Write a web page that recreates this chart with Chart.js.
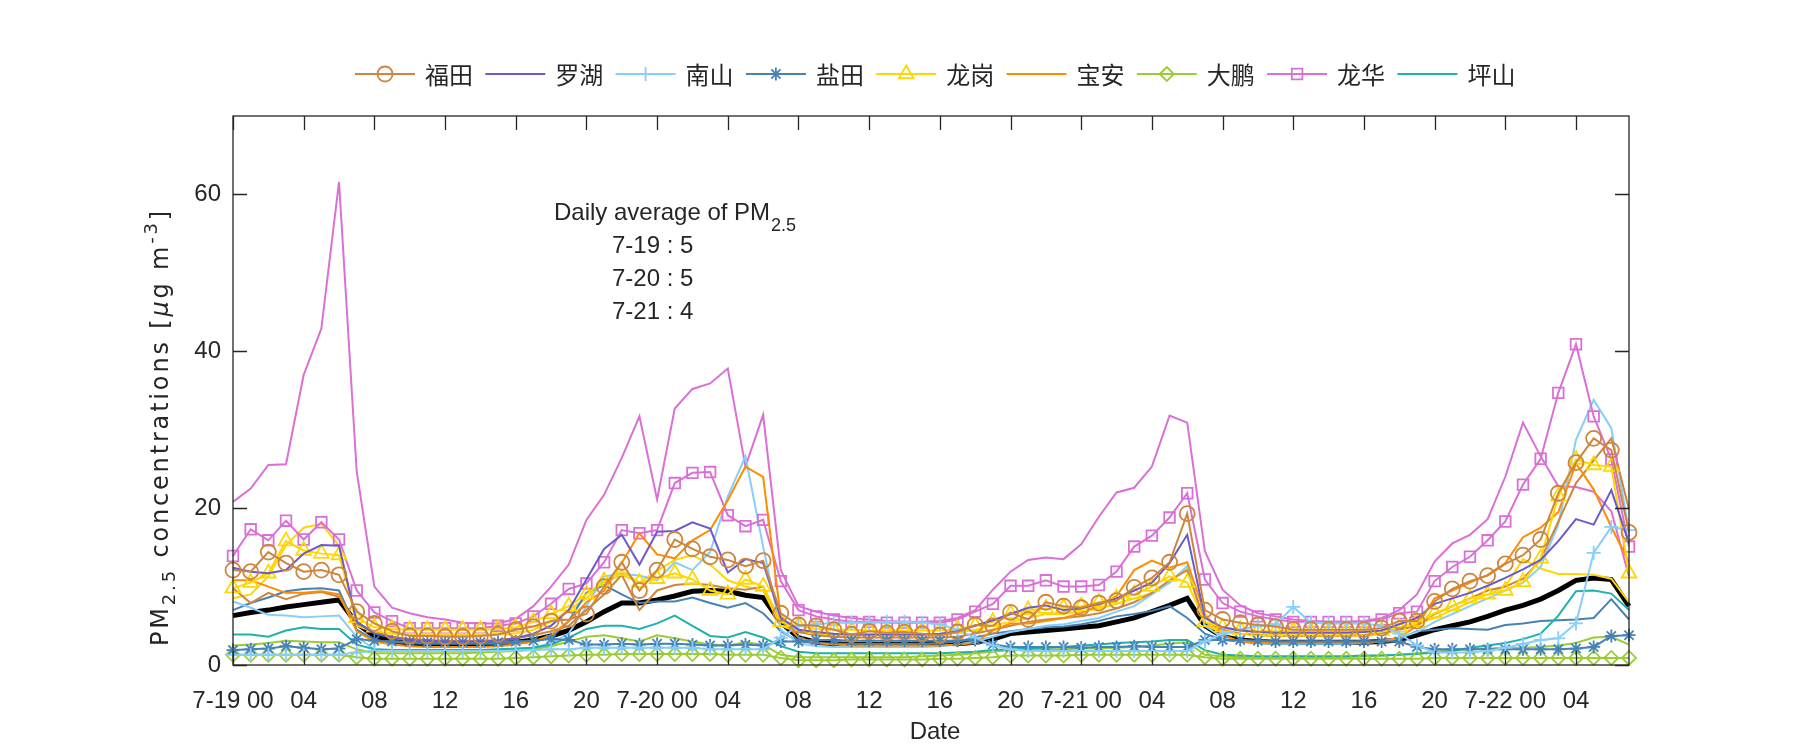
<!DOCTYPE html>
<html>
<head>
<meta charset="utf-8">
<script src="https://cdn.jsdelivr.net/npm/chart.js@4.4.1/dist/chart.umd.min.js"></script>
<style>
  html, body { margin: 0; padding: 0; background: #fff; }
  canvas { display: block; }
</style>
</head>
<body>
<canvas id="chart" width="1800" height="750"></canvas>
<script>
// PM2.5 horaire par district, 7-19 00h -> 7-22 07h (80 heures)
const HOURS = Array.from({ length: 80 }, (_, i) => i);

const DISTRICTS = ['福田', '罗湖', '南山', '盐田', '龙岗', '宝安', '大鹏', '龙华', '坪山'];
const DAILY_DATES = ['7-19', '7-20', '7-21'];
const DAILY_AVG = [5, 5, 4];
const Y_TICKS = [0, 20, 40, 60];

// moyenne (ligne noire épaisse)
const AVG = [
  6.3, 6.7, 7.0, 7.4, 7.7, 8.0, 8.3,
  5.3, 3.7, 3.0, 2.8, 2.6, 2.6, 2.6, 2.6, 2.7, 2.9, 3.2, 3.7, 4.4,
  5.5, 6.8, 7.9, 7.9, 8.3, 8.8, 9.4, 9.5, 9.4, 8.9, 8.6,
  5.4, 3.5, 2.9, 2.7, 2.6, 2.6, 2.6, 2.6, 2.7, 2.8, 2.7, 2.9, 3.3,
  4.0, 4.2, 4.4, 4.6, 4.8, 5.0, 5.5, 6.0, 6.8, 7.6, 8.5,
  5.0, 3.6, 3.2, 3.0, 2.9, 2.9, 2.9, 2.9, 2.9, 2.9, 3.0, 3.2, 3.8,
  4.5, 5.0, 5.5, 6.2, 7.0, 7.6, 8.4, 9.5, 10.8, 11.1, 10.9, 7.5,
];

const FUTIAN = [
  12.1, 11.9, 14.4, 13.0, 11.9, 12.1, 11.5,
  6.8, 5.3, 4.3, 3.7, 3.7, 3.6, 3.6, 3.7, 3.9, 4.5, 4.9, 5.6, 5.8,
  6.5, 10.0, 13.1, 9.5, 12.1, 16.0, 14.8, 13.8, 13.4, 12.6, 13.3,
  6.6, 5.1, 5.0, 4.5, 3.9, 4.3, 4.1, 4.2, 4.0, 3.8, 4.2, 5.1, 5.0,
  6.7, 5.8, 8.0, 7.5, 7.3, 7.9, 8.2, 9.9, 11.1, 13.1, 19.3,
  7.0, 5.8, 5.4, 5.1, 4.9, 4.5, 4.5, 4.5, 4.5, 4.5, 4.7, 5.6, 5.6,
  8.1, 9.7, 10.7, 11.4, 12.9, 14.0, 16.0, 21.9, 25.8, 28.9, 27.4, 16.9,
];
const FUTIAN_B = [
  9.8, 7.9, 9.2, 8.4, 9.1, 9.3, 8.7,
  5.3, 4.2, 3.6, 3.3, 3.2, 3.1, 3.1, 3.1, 3.2, 3.4, 3.8, 4.3, 5.0,
  7.0, 9.0, 11.5, 7.0, 9.5, 10.2, 10.4, 10.2, 9.8, 9.6, 10.0,
  5.5, 4.2, 3.8, 3.6, 3.5, 3.5, 3.5, 3.5, 3.5, 3.5, 3.6, 4.0, 4.5,
  5.0, 5.5, 5.8, 6.0, 6.2, 6.6, 7.2, 8.0, 9.2, 10.8, 12.1,
  5.5, 4.5, 4.0, 3.8, 3.7, 3.7, 3.7, 3.7, 3.7, 3.8, 4.0, 4.5, 5.0,
  6.5, 7.5, 8.5, 9.5, 10.0, 11.0, 13.4, 18.3, 23.2, 26.1, 28.9, 19.8,
];
const LUOHU = [
  12.4, 11.9, 11.7, 12.1, 14.2, 15.3, 15.2,
  5.5, 4.0, 3.5, 3.2, 3.1, 3.0, 3.0, 3.0, 3.1, 3.4, 4.0, 5.0, 7.0,
  10.9, 14.8, 16.6, 12.8, 17.0, 17.1, 18.2, 17.4, 11.8, 13.5, 13.0,
  6.0, 4.5, 4.2, 4.0, 3.9, 3.9, 3.9, 3.9, 3.9, 4.0, 4.3, 5.0, 5.7,
  6.5, 7.3, 7.6, 7.0, 7.2, 7.8, 8.5, 9.5, 10.5, 13.0, 16.6,
  6.0, 4.8, 4.4, 4.2, 4.1, 4.1, 4.1, 4.1, 4.1, 4.2, 4.4, 5.2, 6.0,
  7.8, 8.5, 9.2, 10.1, 11.1, 12.2, 13.4, 15.8, 18.6, 17.9, 22.3, 15.5,
];
const NANSHAN = [
  1.3, 1.3, 1.3, 1.3, 1.3, 1.3, 1.3,
  1.6, 1.8, 1.8, 1.8, 1.8, 1.8, 1.8, 1.8, 1.8, 1.8, 1.9, 2.0, 2.0,
  2.2, 2.2, 2.2, 2.2, 2.2, 2.2, 2.2, 2.0, 2.0, 2.0, 2.0,
  3.5, 5.0, 5.2, 5.4, 5.4, 5.4, 5.5, 5.5, 5.4, 5.2, 4.5, 3.5, 2.5,
  2.0, 1.8, 1.8, 1.8, 1.8, 1.8, 1.8, 1.8, 1.8, 1.8, 1.8,
  3.0, 4.0, 4.5, 5.0, 5.2, 7.4, 5.4, 5.3, 5.3, 5.3, 5.0, 4.0, 2.5,
  1.6, 1.6, 1.6, 1.8, 2.2, 2.7, 3.2, 3.4, 5.3, 14.3, 17.6, 17.2,
];
const NANSHAN_B = [
  8.1, 7.3, 6.4, 6.3, 6.1, 6.2, 6.3,
  3.6, 2.0, 1.9, 1.9, 1.9, 1.9, 1.9, 1.9, 1.9, 2.0, 2.2, 2.8, 4.0,
  7.5, 11.3, 11.6, 11.4, 10.8, 13.1, 12.1, 14.4, 21.5, 26.6, 15.1,
  4.5, 2.8, 2.4, 2.3, 2.3, 2.3, 2.3, 2.3, 2.3, 2.4, 2.6, 3.0, 3.6,
  4.2, 4.6, 5.0, 5.2, 5.6, 6.0, 6.8, 7.5, 9.0, 10.5, 12.6,
  5.0, 3.5, 3.0, 2.8, 2.7, 2.7, 2.7, 2.7, 2.7, 2.8, 3.0, 3.5, 4.2,
  5.5, 6.5, 7.5, 8.5, 9.5, 10.5, 12.5, 17.9, 28.7, 33.8, 30.2, 17.0,
];
const YANTIAN = [
  1.9, 2.0, 2.1, 2.4, 2.2, 2.0, 2.1,
  3.3, 3.1, 3.0, 3.0, 2.9, 2.9, 2.9, 2.9, 2.9, 3.0, 3.1, 3.3, 3.2,
  2.6, 2.6, 2.7, 2.6, 2.7, 2.7, 2.6, 2.5, 2.5, 2.6, 2.5,
  3.0, 3.0, 3.2, 3.2, 3.1, 3.1, 3.1, 3.1, 3.1, 3.1, 3.1, 3.2, 2.6,
  2.3, 2.3, 2.3, 2.3, 2.2, 2.3, 2.3, 2.4, 2.3, 2.3, 2.3,
  3.2, 3.2, 3.2, 3.1, 3.0, 3.0, 3.0, 3.0, 3.0, 3.0, 3.0, 3.0, 2.3,
  2.0, 2.0, 2.0, 2.0, 2.0, 2.0, 2.0, 2.0, 2.1, 2.3, 3.7, 3.8,
];
const YANTIAN_B = [
  7.0, 7.9, 8.6, 9.4, 9.7, 9.8, 9.5,
  4.5, 3.2, 2.9, 2.8, 2.7, 2.7, 2.7, 2.7, 2.7, 2.8, 3.0, 3.5, 5.6,
  9.2, 10.2, 9.0, 7.9, 8.1, 8.1, 8.6, 7.9, 7.3, 7.9, 6.6,
  4.3, 3.0, 2.8, 2.7, 2.7, 2.7, 2.7, 2.7, 2.7, 2.8, 3.0, 3.5, 4.0,
  4.3, 4.6, 4.8, 4.9, 5.2, 5.6, 6.2, 6.5, 6.9, 7.5, 6.0,
  4.0, 3.2, 3.0, 3.0, 3.0, 3.0, 3.0, 3.0, 3.0, 3.0, 3.0, 3.3, 4.3,
  4.5, 4.7, 4.6, 4.5, 5.1, 5.3, 5.6, 5.7, 5.8, 6.0, 8.4, 5.8,
];
const LONGGANG = [
  9.8, 10.5, 11.7, 15.8, 14.6, 14.2, 14.0,
  6.0, 4.8, 4.6, 4.5, 4.5, 4.5, 4.5, 4.5, 4.6, 4.8, 5.5, 6.5, 7.5,
  9.0, 10.7, 12.0, 10.5, 11.0, 11.7, 10.9, 9.5, 9.0, 10.9, 10.0,
  5.5, 5.0, 4.6, 4.5, 4.5, 4.4, 4.4, 4.4, 4.4, 4.4, 4.6, 5.0, 5.5,
  6.5, 7.0, 7.2, 7.3, 7.5, 8.0, 8.5, 9.0, 10.0, 11.3, 10.5,
  5.5, 4.8, 4.5, 4.3, 4.3, 4.3, 4.3, 4.3, 4.3, 4.3, 4.4, 4.8, 5.5,
  6.6, 7.5, 8.5, 9.0, 9.5, 10.6, 13.6, 21.5, 26.2, 25.5, 25.3, 11.7,
];
const LONGGANG_B = [
  8.5, 9.0, 11.3, 15.3, 17.5, 18.0, 15.2,
  5.0, 4.2, 4.0, 3.9, 3.8, 3.8, 3.8, 3.8, 3.9, 4.0, 4.5, 5.5, 7.0,
  8.5, 10.5, 11.5, 10.5, 12.0, 13.4, 14.0, 12.8, 10.8, 10.0, 9.5,
  5.0, 4.2, 4.0, 3.9, 3.8, 3.8, 3.8, 3.8, 3.8, 3.9, 4.1, 4.5, 5.0,
  5.5, 6.0, 6.5, 6.5, 6.8, 7.2, 7.8, 8.5, 9.2, 10.5, 12.5,
  5.0, 4.2, 4.0, 3.9, 3.8, 3.8, 3.8, 3.8, 3.8, 3.9, 4.1, 4.6, 5.2,
  6.0, 7.0, 8.0, 9.0, 10.0, 13.5, 12.3, 11.6, 11.6, 11.5, 11.0, 8.0,
];
const BAOAN = [
  10.8, 10.8, 10.0, 9.2, 9.2, 9.4, 9.0,
  4.3, 3.0, 2.6, 2.4, 2.3, 2.3, 2.3, 2.3, 2.4, 2.6, 3.0, 3.8, 5.6,
  8.0, 9.5, 13.0, 16.8, 14.1, 13.6, 15.9, 17.2, 21.0, 25.3, 24.0,
  6.0, 3.5, 2.8, 2.6, 2.5, 2.5, 2.5, 2.5, 2.5, 2.5, 2.6, 2.8, 4.4,
  5.3, 5.3, 5.6, 6.0, 6.6, 7.6, 8.8, 12.1, 13.3, 12.4, 13.1,
  6.5, 3.8, 3.0, 2.8, 2.8, 2.8, 2.8, 2.8, 2.8, 2.8, 3.0, 3.5, 5.0,
  8.5, 9.5, 10.5, 11.5, 13.0, 16.3, 17.5, 19.5, 25.7, 22.4, 17.6, 13.1,
];
const DAPENG = [
  1.3, 1.3, 1.3, 1.3, 1.3, 1.3, 1.3,
  1.0, 0.8, 0.8, 0.8, 0.8, 0.8, 0.8, 0.8, 0.8, 0.9, 1.0, 1.1, 1.2,
  1.3, 1.3, 1.4, 1.4, 1.4, 1.4, 1.4, 1.4, 1.3, 1.3, 1.3,
  0.9, 0.6, 0.6, 0.6, 0.7, 0.7, 0.7, 0.7, 0.7, 0.8, 0.8, 0.9, 1.0,
  1.2, 1.2, 1.2, 1.2, 1.3, 1.3, 1.3, 1.3, 1.3, 1.3, 1.3,
  1.0, 0.8, 0.8, 0.8, 0.8, 0.8, 0.8, 0.8, 0.8, 0.8, 0.8, 0.8, 0.8,
  0.9, 0.9, 0.9, 0.9, 0.9, 0.9, 0.9, 0.9, 0.9, 0.9, 0.9, 0.9,
];
const DAPENG_B = [
  2.5, 2.6, 2.8, 3.1, 3.0, 2.9, 2.9,
  2.0, 1.5, 1.5, 1.5, 1.5, 1.5, 1.5, 1.6, 1.7, 1.8, 2.0, 2.4, 3.0,
  3.6, 3.8, 3.4, 3.0, 3.8, 3.4, 3.0, 2.6, 2.5, 2.9, 2.6,
  1.3, 1.0, 1.0, 1.0, 1.0, 1.0, 1.0, 1.0, 1.1, 1.2, 1.3, 1.5, 1.7,
  1.9, 1.9, 2.0, 2.0, 2.1, 2.1, 2.2, 2.3, 2.5, 2.7, 2.9,
  1.3, 1.1, 1.0, 1.0, 1.0, 1.0, 1.0, 1.0, 1.0, 1.1, 1.2, 1.3, 1.5,
  1.7, 1.9, 2.0, 2.1, 2.2, 2.2, 2.3, 2.5, 2.8, 3.5, 3.6, 2.6,
];
const LONGHUA = [
  13.9, 17.3, 15.9, 18.4, 16.0, 18.2, 16.0,
  9.5, 6.7, 5.6, 4.7, 4.7, 4.7, 4.7, 4.7, 5.0, 5.3, 6.2, 7.8, 9.7,
  10.4, 13.1, 17.2, 16.8, 17.2, 23.2, 24.5, 24.6, 19.1, 17.7, 18.5,
  10.7, 7.0, 6.2, 5.8, 5.5, 5.5, 5.4, 5.4, 5.4, 5.4, 5.8, 6.8, 7.8,
  10.1, 10.1, 10.8, 10.0, 10.0, 10.2, 11.9, 15.1, 16.5, 18.8, 21.9,
  10.9, 7.9, 6.8, 6.2, 5.8, 5.5, 5.5, 5.5, 5.5, 5.5, 5.8, 6.6, 6.8,
  10.7, 12.5, 13.8, 15.9, 18.3, 23.0, 26.3, 34.7, 40.9, 31.7, 26.2, 15.1,
];
const LONGHUA_B = [
  20.8, 22.5, 25.5, 25.6, 37.0, 42.9, 61.6,
  24.7, 10.0, 7.3, 6.6, 6.1, 5.8, 5.4, 5.3, 5.3, 5.9, 7.5, 10.0, 12.8,
  18.5, 21.7, 26.4, 31.7, 21.1, 32.7, 35.2, 35.9, 37.8, 25.3, 31.9,
  12.1, 7.5, 6.8, 6.3, 6.0, 5.8, 5.6, 5.5, 5.5, 5.6, 6.0, 7.0, 9.6,
  11.9, 13.4, 13.7, 13.5, 15.4, 18.9, 22.0, 22.6, 25.3, 31.8, 30.9,
  14.5, 9.6, 7.6, 6.6, 6.2, 5.8, 5.6, 5.5, 5.5, 5.6, 6.0, 7.0, 9.0,
  13.2, 15.5, 16.6, 18.6, 24.0, 30.9, 26.6, 22.8, 22.7, 22.1, 19.6, 11.3,
];
const PINGSHAN = [
  3.9, 3.9, 3.6, 4.4, 4.8, 4.6, 4.6,
  2.6, 2.0, 1.9, 1.9, 1.9, 1.9, 1.9, 1.9, 2.0, 2.1, 2.2, 2.6, 3.5,
  4.6, 5.0, 5.0, 4.6, 5.3, 6.3, 5.0, 3.7, 3.5, 4.2, 3.5,
  2.4, 1.7, 1.5, 1.5, 1.5, 1.5, 1.5, 1.5, 1.5, 1.5, 1.6, 1.7, 1.9,
  2.0, 2.1, 2.2, 2.3, 2.5, 2.6, 2.8, 2.9, 3.0, 3.2, 3.2,
  1.9, 1.3, 1.2, 1.1, 1.1, 1.1, 1.1, 1.1, 1.1, 1.2, 1.2, 1.3, 1.4,
  1.6, 1.8, 2.2, 2.5, 2.8, 3.3, 4.0, 6.3, 9.4, 9.5, 9.1, 7.0,
];

// Styles
const TXT = '#262626';
const FONT = "'Liberation Sans', Arial, sans-serif";
const CJK = "'Noto Sans CJK SC', sans-serif";
const COLORS = ['#CD853F', '#6A5ACD', '#87CEFA', '#4682B4', '#FFD700', '#FF8C00', '#9ACD32', '#DA70D6', '#20B2AA'];
const MARKERS = ['circle', null, 'cross', 'star', 'triangle', null, 'rectRot', 'rect', null];
const RADII = [7.5, 0, 7, 6.5, 8.5, 0, 7, 7.5, 0];

function serie(data, idx, withMarker) {
  const m = withMarker ? MARKERS[idx] : null;
  return {
    data,
    borderColor: COLORS[idx],
    borderWidth: 2,
    pointStyle: m || 'circle',
    pointRadius: m ? RADII[idx] : 0,
    pointBorderColor: COLORS[idx],
    pointBackgroundColor: 'rgba(0,0,0,0)',
    pointBorderWidth: 1.8,
    tension: 0,
    clip: 14,
    order: 1,
  };
}

const datasets = [
  serie(FUTIAN, 0, true), serie(LUOHU, 1, true), serie(NANSHAN, 2, true),
  serie(YANTIAN, 3, true), serie(LONGGANG, 4, true), serie(BAOAN, 5, true),
  serie(DAPENG, 6, true), serie(LONGHUA, 7, true), serie(PINGSHAN, 8, true),
  serie(FUTIAN_B, 0, false), serie(NANSHAN_B, 2, false), serie(YANTIAN_B, 3, false),
  serie(LONGGANG_B, 4, false), serie(DAPENG_B, 6, false), serie(LONGHUA_B, 7, false),
  { data: AVG, borderColor: '#000', borderWidth: 5, pointRadius: 0, tension: 0, order: 5, clip: 14 },
];

function hourLabel(v) {
  const h = v % 24;
  if (h === 0) return DAILY_DATES.concat(['7-22'])[v / 24] + ' 00';
  return String(h).padStart(2, '0');
}

// Cadre, ticks internes, légende, titres d'axes et annotation
const decor = {
  id: 'decor',
  afterDatasetsDraw(chart) {
    const { ctx, chartArea: a, scales: { x, y } } = chart;
    const TL = 14;
    ctx.save();
    ctx.strokeStyle = TXT;
    ctx.lineWidth = 1.3;
    ctx.strokeRect(a.left, a.top, a.right - a.left, a.bottom - a.top);
    ctx.beginPath();
    x.ticks.forEach(t => {
      const px = Math.round(x.getPixelForValue(t.value)) + 0.5;
      ctx.moveTo(px, a.bottom); ctx.lineTo(px, a.bottom - TL);
      ctx.moveTo(px, a.top); ctx.lineTo(px, a.top + TL);
    });
    Y_TICKS.forEach(v => {
      const py = Math.round(y.getPixelForValue(v)) + 0.5;
      ctx.moveTo(a.left, py); ctx.lineTo(a.left + TL, py);
      ctx.moveTo(a.right, py); ctx.lineTo(a.right - TL, py);
    });
    ctx.stroke();
    ctx.restore();
  },
  afterDraw(chart) {
    const { ctx } = chart;
    ctx.save();

    // légende horizontale
    const LY = 74;
    DISTRICTS.forEach((name, i) => {
      const x0 = 355 + i * 130.3;
      ctx.strokeStyle = COLORS[i];
      ctx.lineWidth = 2;
      ctx.beginPath(); ctx.moveTo(x0, LY); ctx.lineTo(x0 + 60, LY); ctx.stroke();
      if (MARKERS[i]) {
        ctx.fillStyle = 'rgba(0,0,0,0)';
        ctx.lineWidth = 1.8;
        Chart.helpers.drawPoint(ctx, { pointStyle: MARKERS[i], radius: RADII[i], borderWidth: 1.8, rotation: 0 }, x0 + 30, LY);
      }
      ctx.fillStyle = TXT;
      ctx.font = '24px ' + CJK;
      ctx.textAlign = 'left';
      ctx.textBaseline = 'middle';
      ctx.fillText(name, x0 + 70, LY + 1);
    });

    // annotation moyennes journalières
    ctx.fillStyle = TXT;
    ctx.font = '24px ' + FONT;
    ctx.textBaseline = 'middle';
    const head = 'Daily average of PM';
    ctx.fillText(head, 554, 213);
    const wHead = ctx.measureText(head).width;
    ctx.font = '18px ' + FONT;
    ctx.fillText('2.5', 554 + wHead + 1, 226);
    ctx.font = '24px ' + FONT;
    DAILY_DATES.forEach((d, i) => {
      ctx.fillText(d + ' : ' + DAILY_AVG[i], 612, 246 + i * 33);
    });

    // titre axe x
    ctx.textAlign = 'center';
    ctx.fillText('Date', 935, 732);

    // titre axe y, tourné
    const parts = [
      { t: 'PM', f: '24px', dy: 0 },
      { t: '2.5', f: '18px', dy: 8 },
      { t: ' concentrations [', f: '24px', dy: 0 },
      { t: 'μ', f: 'italic 24px', dy: 0 },
      { t: 'g m', f: '24px', dy: 0 },
      { t: '-3', f: '18px', dy: -10 },
      { t: ']', f: '24px', dy: 0 },
    ];
    const YF = "'DejaVu Sans', sans-serif";
    let natural = 0, nChars = 0;
    parts.forEach(p => { ctx.font = p.f + ' ' + YF; natural += ctx.measureText(p.t).width; nChars += p.t.length; });
    const ls = Math.max(0, Math.min(6, (438 - natural) / nChars));
    ctx.translate(162, 646);
    ctx.rotate(-Math.PI / 2);
    ctx.textAlign = 'left';
    let cx = 0;
    parts.forEach(p => {
      ctx.font = p.f + ' ' + YF;
      ctx.letterSpacing = ls.toFixed(2) + 'px';
      ctx.fillText(p.t, cx, p.dy);
      cx += ctx.measureText(p.t).width + (ctx.letterSpacing ? 0 : ls * p.t.length);
    });
    ctx.restore();
  },
};

new Chart(document.getElementById('chart'), {
  type: 'line',
  data: { labels: HOURS, datasets },
  options: {
    responsive: false,
    animation: false,
    devicePixelRatio: 1,
    layout: { padding: { left: 0, right: 171, top: 116, bottom: 0 } },
    plugins: { legend: { display: false }, tooltip: { enabled: false } },
    scales: {
      x: {
        type: 'linear', min: 0, max: 79,
        afterFit: s => { s.height = 85; },
        grid: { display: false, drawTicks: false },
        border: { display: false },
        ticks: {
          stepSize: 4, includeBounds: false, autoSkip: false, maxRotation: 0,
          padding: 22, color: TXT, font: { family: FONT, size: 24 },
          callback: hourLabel,
        },
      },
      y: {
        min: 0, max: 70,
        afterFit: s => { s.width = 233; },
        grid: { display: false, drawTicks: false },
        border: { display: false },
        ticks: {
          stepSize: 20, includeBounds: false, padding: 12, color: TXT,
          font: { family: FONT, size: 24 },
        },
      },
    },
  },
  plugins: [decor],
});
</script>
</body>
</html>
